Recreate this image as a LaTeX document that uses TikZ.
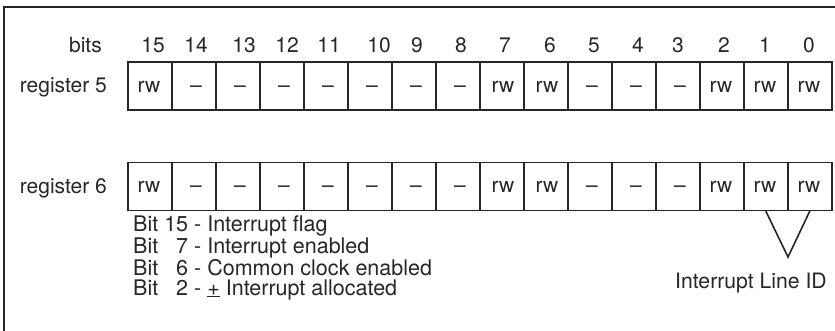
\documentclass[tikz,border=0pt]{standalone}
\usepackage{fontspec}
\setmainfont{TeX Gyre Heros}
\begin{document}
\begin{tikzpicture}[x=1bp,y=-1bp,
  every node/.style={font=\fontsize{21bp}{21bp}\selectfont, inner sep=0pt, text=black!85},
  cellbox/.style={draw=black!85, line width=1.6bp, minimum width=44bp, minimum height=48bp, anchor=north west},
  lbl/.style={anchor=base},
  rlbl/.style={anchor=base east},
  legendtext/.style={anchor=north west, align=left, font=\fontsize{21.5bp}{20bp}\selectfont},
  idlbl/.style={anchor=base, font=\fontsize{21.2bp}{21.2bp}\selectfont},
  conn/.style={draw=black!85, line width=1.6bp}]
\useasboundingbox (0,0) rectangle (835,330);
% frame (only top and left visible)
\draw[black!85, line width=2bp] (4,331) -- (4,7) -- (836,7);

% bit numbers
\foreach \b/\xx in {15/153,14/196,13/244,12/287,11/329,10/379,9/417,8/461,7/505,6/550,5/594,4/638,3/678,2/724,1/765,0/809}
  \node[lbl] (n\b) at (\xx,52) {\b};
\node[rlbl] (bitslbl) at (102,52) {bits};
\node[rlbl] (reg5lbl) at (107,92) {register 5};
\node[rlbl] (reg6lbl) at (107,193) {register 6};

% register cells
\foreach \b/\t/\dx in {15/rw/0,14/–/3,13/–/3,12/–/3,11/–/3,10/–/3,9/–/3,8/–/3,7/rw/2,6/rw/2,5/–/3,4/–/3,3/–/3,2/rw/0,1/rw/0,0/rw/0}{
  \node[cellbox] (rA\b) at ({127+(15-\b)*44},61) {};
  \node[lbl] (tA\b) at ({127+(15-\b)*44+22+\dx},92) {\t};
  \node[cellbox] (rB\b) at ({127+(15-\b)*44},161.5) {};
  \node[lbl] (tB\b) at ({127+(15-\b)*44+22+\dx},192) {\t};
}

% legend
\node[legendtext] (legend) at (133,216) {Bit 15 - Interrupt flag\\
Bit \phantom{1}7 - Interrupt enabled\\
Bit \phantom{1}6 - Common clock enabled\\
Bit \phantom{1}2 - \underline{+} Interrupt allocated};

% interrupt line id
\coordinate (apex) at (788,257);
\draw[conn] (rB1.south) -- (apex) -- (rB0.south);
\node[idlbl] (irqid) at (751,288) {Interrupt Line ID};
\end{tikzpicture}
\end{document}
